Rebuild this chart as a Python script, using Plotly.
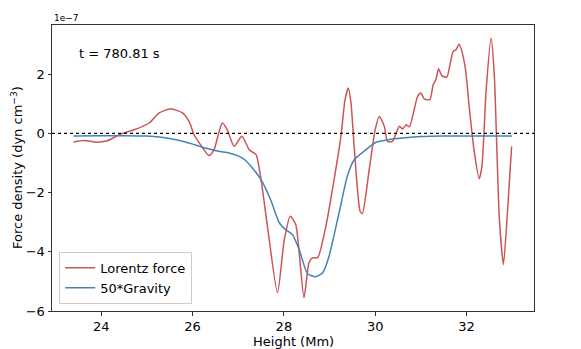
import plotly.graph_objects as go

# Lorentz force density (units of 1e-7 dyn cm^-3)
lorentz_height = [23.39, 23.62, 23.91, 24.13, 24.43, 24.72, 25.05, 25.27, 25.52, 25.78,
                  25.93, 26.03, 26.15, 26.36, 26.47, 26.65, 26.76, 26.91, 27.08, 27.24,
                  27.39, 27.50, 27.64, 27.86, 28.01, 28.14, 28.26, 28.44, 28.55, 28.63,
                  28.74, 28.92, 29.10, 29.25, 29.34, 29.41, 29.47, 29.54, 29.67, 29.72,
                  29.87, 30.00, 30.09, 30.20, 30.27, 30.38, 30.53, 30.60, 30.68, 30.75,
                  30.93, 31.00, 31.08, 31.20, 31.27, 31.33, 31.39, 31.46, 31.57, 31.64,
                  31.71, 31.77, 31.84, 31.90, 31.98, 32.06, 32.17, 32.28, 32.34, 32.43,
                  32.54, 32.61, 32.72, 32.81, 32.90, 32.99]
lorentz_force = [-0.29, -0.24, -0.30, -0.25, -0.02, 0.12, 0.35, 0.69, 0.83, 0.69,
                 0.38, -0.04, -0.33, -0.75, -0.55, 0.35, 0.12, -0.44, -0.10, -0.55,
                 -0.72, -1.56, -3.14, -5.38, -3.59, -2.80, -3.08, -5.55, -4.37, -4.20,
                 -4.20, -3.14, -1.56, -0.10, 1.14, 1.53, 1.03, -0.44, -2.63, -2.71,
                 -1.22, 0.12, 0.57, 0.24, -0.27, -0.27, 0.24, 0.15, 0.29, 0.22,
                 1.25, 1.36, 1.16, 1.14, 1.64, 1.81, 2.18, 1.95, 1.90, 2.32,
                 2.77, 2.82, 3.01, 2.77, 2.15, 0.90, -0.61, -1.53, -1.11, 1.42,
                 3.22, 1.98, -2.85, -4.43, -2.63, -0.44]

# 50 * gravity force density
gravity_height = [23.39, 24.0, 24.5, 25.0, 25.27, 25.55, 25.78, 26.10, 26.36, 26.60,
                  26.80, 27.00, 27.15, 27.31, 27.50, 27.71, 27.90, 28.04, 28.19, 28.34,
                  28.52, 28.70, 28.85, 28.99, 29.21, 29.39, 29.54, 29.80, 30.02, 30.31,
                  30.60, 31.00, 31.50, 32.00, 32.50, 33.00]
gravity_force = [-0.09, -0.08, -0.08, -0.09, -0.12, -0.19, -0.27, -0.41, -0.53, -0.61,
                 -0.66, -0.76, -0.90, -1.17, -1.56, -2.24, -3.02, -3.25, -3.42, -3.95,
                 -4.74, -4.84, -4.71, -4.15, -2.68, -1.45, -0.89, -0.55, -0.30, -0.21,
                 -0.16, -0.11, -0.09, -0.09, -0.09, -0.09]

x_ticks = [24, 26, 28, 30, 32]
y_ticks = [-6, -4, -2, 0, 2]

font = "DejaVu Sans"
fs = 13

fig = go.Figure()
fig.add_trace(go.Scatter(
    x=lorentz_height, y=lorentz_force, mode='lines', name='Lorentz force',
    line=dict(color='#cd5456', width=1.5, shape='spline', smoothing=0.6)
))
fig.add_trace(go.Scatter(
    x=gravity_height, y=gravity_force, mode='lines', name='50*Gravity',
    line=dict(color='#4682b4', width=1.5, shape='spline', smoothing=0.6)
))

# dotted zero line
fig.add_shape(type='line', xref='paper', yref='y', x0=0, x1=1, y0=0, y1=0,
              line=dict(color='black', width=1.2, dash='dot'))

fig.add_annotation(text='t = 780.81 s', xref='paper', yref='paper', x=0.051, y=0.902,
                   xanchor='left', yanchor='middle', showarrow=False,
                   font=dict(size=fs, color='black', family=font))
fig.add_annotation(text='1e\u22127', xref='paper', yref='paper', x=0, y=1,
                   xanchor='left', yanchor='bottom', showarrow=False,
                   font=dict(size=9, color='black', family=font))

# axis titles as annotations so the margins stay fixed
fig.add_annotation(text='Height (Mm)', xref='paper', yref='paper', x=0.5, y=0,
                   xanchor='center', yanchor='middle', yshift=-30, showarrow=False,
                   font=dict(size=fs, color='black', family=font))
fig.add_annotation(text='Force density (dyn cm<sup>\u22123</sup>)', xref='paper', yref='paper',
                   x=0, y=0.5, xanchor='center', yanchor='middle', xshift=-35, textangle=-90,
                   showarrow=False, font=dict(size=fs, color='black', family=font))

axis_common = dict(
    showline=True, mirror=True, linecolor='#333', linewidth=1, automargin=False,
    ticks='outside', ticklen=3.5, tickcolor='#333', showgrid=False, zeroline=False,
    tickfont=dict(size=fs, color='black', family=font),
)

# page body adds an 8px offset, so the figure is 8px smaller than the window
fig.update_layout(
    width=573, height=341, autosize=False,
    margin=dict(l=44, r=47, t=17, b=38),
    paper_bgcolor='white', plot_bgcolor='white',
    font=dict(family=font, color='black'),
    xaxis=dict(range=[22.92, 33.48], tickvals=x_ticks, **axis_common),
    yaxis=dict(range=[-6, 3.66], tickvals=y_ticks, **axis_common),
    legend=dict(x=0.015, y=0.025, xanchor='left', yanchor='bottom', itemwidth=30,
                bgcolor='rgba(255,255,255,0.8)', bordercolor='#cccccc', borderwidth=1,
                font=dict(size=fs, family=font)),
    showlegend=True,
)

fig.write_html("out.html")
